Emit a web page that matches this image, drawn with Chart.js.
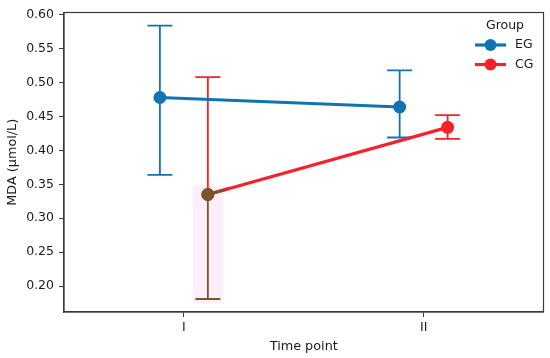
<!DOCTYPE html>
<html>
<head>
<meta charset="utf-8">
<script src="https://cdn.jsdelivr.net/npm/chart.js@4"></script>
<style>
  html, body { margin: 0; padding: 0; background: #fff; }
  #wrap { width: 550px; height: 358px; position: relative; }
</style>
</head>
<body>
<div id="wrap"><canvas id="mdaChart"></canvas></div>
<script>
// data
const timePoints = ['I', 'II'];
const groups = ['EG', 'CG'];
const egMean = [0.478, 0.464];
const egLow = [0.364, 0.419];
const egHigh = [0.584, 0.518];
const cgMean = [0.335, 0.434];
const cgLow = [0.181, 0.417];
const cgHigh = [0.508, 0.452];
const yTicks = [0.20, 0.25, 0.30, 0.35, 0.40, 0.45, 0.50, 0.55, 0.60];

const blue = '#1273b3';
const red = '#f3222b';
const brown = '#7a5527';
const axisColor = '#3a3a3a';
const dodge = 0.1;

function pts(means, off) {
	return means.map((v, i) => ({ x: i + off, y: v }));
}

// error bars, drawn under the lines
const errorBars = {
	id: 'errorBars',
	beforeDatasetsDraw(chart) {
		const ctx = chart.ctx;
		const xs = chart.scales.x, ys = chart.scales.y;
		// pink patch around CG point at I
		const px = xs.getPixelForValue(0 + dodge);
		const py = ys.getPixelForValue(cgMean[0]);
		const pl = ys.getPixelForValue(cgLow[0]);
		ctx.save();
		ctx.fillStyle = '#fdeefb';
		ctx.fillRect(px - 15, py - 9, 30, pl - py + 13);
		ctx.fillStyle = '#fef4fd';
		ctx.fillRect(px + 15, py - 9, 18, 7);
		ctx.restore();

		const sets = [
			{ mean: egMean, low: egLow, high: egHigh, off: -dodge, color: blue },
			{ mean: cgMean, low: cgLow, high: cgHigh, off: dodge, color: red }
		];
		ctx.save();
		ctx.lineWidth = 1.8;
		sets.forEach((s, si) => {
			s.mean.forEach((m, i) => {
				const x = xs.getPixelForValue(i + s.off);
				const yl = ys.getPixelForValue(s.low[i]);
				const yh = ys.getPixelForValue(s.high[i]);
				const ym = ys.getPixelForValue(m);
				const lowColor = (si === 1 && i === 0) ? '#6e5a2c' : s.color;
				ctx.strokeStyle = s.color;
				ctx.beginPath();
				ctx.moveTo(x, yh); ctx.lineTo(x, ym);
				ctx.moveTo(x - 12.5, yh); ctx.lineTo(x + 12.5, yh);
				ctx.stroke();
				ctx.strokeStyle = lowColor;
				ctx.beginPath();
				ctx.moveTo(x, ym); ctx.lineTo(x, yl);
				ctx.moveTo(x - 12.5, yl); ctx.lineTo(x + 12.5, yl);
				ctx.stroke();
			});
		});
		ctx.restore();
	},
	afterDatasetsDraw(chart) {
		// brownish tint on the CG point at I
		const ctx = chart.ctx;
		const xs = chart.scales.x, ys = chart.scales.y;
		const x0 = xs.getPixelForValue(0 + dodge), y0 = ys.getPixelForValue(cgMean[0]);
		const x1 = xs.getPixelForValue(1 + dodge), y1 = ys.getPixelForValue(cgMean[1]);
		const len = Math.hypot(x1 - x0, y1 - y0);
		const t = 22 / len;
		ctx.save();
		const g = ctx.createLinearGradient(x0, y0, x0 + (x1 - x0) * t, y0 + (y1 - y0) * t);
		g.addColorStop(0, brown);
		g.addColorStop(0.6, brown);
		g.addColorStop(1, red);
		ctx.strokeStyle = g;
		ctx.lineWidth = 3.2;
		ctx.beginPath();
		ctx.moveTo(x0, y0);
		ctx.lineTo(x0 + (x1 - x0) * t, y0 + (y1 - y0) * t);
		ctx.stroke();
		ctx.fillStyle = brown;
		ctx.beginPath();
		ctx.arc(x0, y0, 6.5, 0, Math.PI * 2);
		ctx.fill();
		ctx.restore();
	}
};

// frame + legend
const frameLegend = {
	id: 'frameLegend',
	afterDraw(chart) {
		const ctx = chart.ctx;
		const a = chart.chartArea;
		ctx.save();
		ctx.strokeStyle = axisColor;
		ctx.lineWidth = 1.2;
		ctx.strokeRect(a.left, a.top, a.right - a.left, a.bottom - a.top);

		ctx.font = '12.5px "DejaVu Sans"';
		ctx.fillStyle = '#1a1a1a';
		ctx.textBaseline = 'middle';
		ctx.textAlign = 'center';
		ctx.fillText('Group', 505, 26);
		const cols = [blue, red];
		groups.forEach((g, i) => {
			const y = 45 + i * 19.5;
			ctx.strokeStyle = cols[i];
			ctx.lineWidth = 3.2;
			ctx.beginPath();
			ctx.moveTo(475, y); ctx.lineTo(506, y);
			ctx.stroke();
			ctx.fillStyle = cols[i];
			ctx.beginPath();
			ctx.arc(490.5, y, 6, 0, Math.PI * 2);
			ctx.fill();
			ctx.fillStyle = '#1a1a1a';
			ctx.textAlign = 'left';
			ctx.fillText(g, 515, y);
		});
		ctx.restore();
	}
};

const tickFont = { family: 'DejaVu Sans', size: 12.5 };
const titleFont = { family: 'DejaVu Sans', size: 12.8 };

new Chart(document.getElementById('mdaChart'), {
	type: 'line',
	data: {
		datasets: [
			{
				label: groups[0],
				data: pts(egMean, -dodge),
				borderColor: blue,
				backgroundColor: blue,
				borderWidth: 3.2,
				pointRadius: 6.5,
				pointBorderWidth: 0,
				pointHoverRadius: 6.5
			},
			{
				label: groups[1],
				data: pts(cgMean, dodge),
				borderColor: red,
				backgroundColor: red,
				borderWidth: 3.2,
				pointRadius: 6.5,
				pointBorderWidth: 0,
				pointHoverRadius: 6.5
			}
		]
	},
	options: {
		responsive: true,
		maintainAspectRatio: false,
		animation: false,
		layout: { padding: { top: 8, right: 4, left: 0, bottom: 0 } },
		plugins: {
			legend: { display: false },
			tooltip: { enabled: false }
		},
		scales: {
			x: {
				type: 'linear',
				min: -0.5,
				max: 1.5,
				afterBuildTicks: (s) => { s.ticks = timePoints.map((_, i) => ({ value: i })); },
				afterFit: (s) => { s.height = 46; },
				ticks: {
					color: '#1a1a1a',
					font: tickFont,
					padding: 3,
					maxRotation: 0,
					callback: (v) => timePoints[v] || ''
				},
				grid: { drawOnChartArea: false, drawTicks: true, tickLength: 5, tickColor: axisColor },
				border: { display: true, color: axisColor, width: 1.2 },
				title: { display: true, text: 'Time point', color: '#1a1a1a', font: titleFont, padding: { top: 0, bottom: 3.5 } }
			},
			y: {
				min: 0.1618,
				max: 0.6033,
				afterBuildTicks: (s) => { s.ticks = yTicks.map(v => ({ value: v })); },
				afterFit: (s) => { s.width = 64; },
				ticks: {
					color: '#1a1a1a',
					font: tickFont,
					padding: 5,
					callback: (v) => v.toFixed(2)
				},
				grid: { drawOnChartArea: false, drawTicks: true, tickLength: 5, tickColor: axisColor },
				border: { display: true, color: axisColor, width: 1.2 },
				title: { display: true, text: 'MDA (μmol/L)', color: '#1a1a1a', font: titleFont, padding: { top: 5, bottom: 0 } }
			}
		}
	},
	plugins: [errorBars, frameLegend]
});
</script>
</body>
</html>
